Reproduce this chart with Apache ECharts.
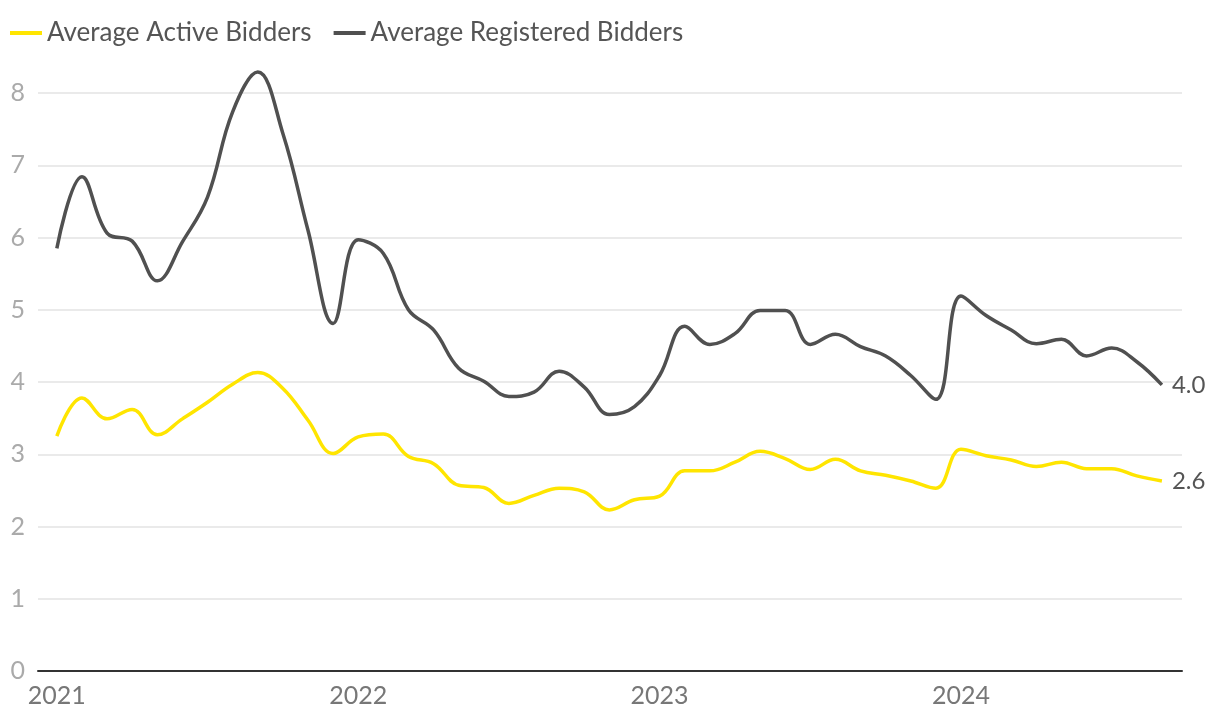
<!DOCTYPE html>
<html>
<head>
<meta charset="utf-8">
<script src="https://cdn.jsdelivr.net/npm/echarts@6/dist/echarts.min.js"></script>
<style>html,body{margin:0;padding:0;background:#fff}#chart{width:1220px;height:726px}</style>
</head>
<body>
<div id="chart"></div>
<script>
const months = [];
for (let y = 2021; y <= 2024; y++) for (let m = 1; m <= 12; m++) months.push(y + '-' + String(m).padStart(2, '0'));
months.length = 45; // Jan 2021 .. Sep 2024

const yearLabels = ['2021', '2022', '2023', '2024'];
const yearTickIndex = [0, 12, 24, 36];

const activeBidders = [
  3.25, 3.78, 3.49, 3.62, 3.27, 3.49, 3.72, 3.97, 4.13, 3.91, 3.47, 3.01,
  3.24, 3.28, 2.97, 2.87, 2.57, 2.54, 2.32, 2.43, 2.53, 2.48, 2.23, 2.37,
  2.42, 2.77, 2.77, 2.89, 3.04, 2.94, 2.79, 2.93, 2.77, 2.71, 2.63, 2.53,
  3.07, 2.98, 2.92, 2.83, 2.89, 2.80, 2.80, 2.70, 2.63
];
const registeredBidders = [
  5.85, 6.84, 6.06, 5.95, 5.40, 5.94, 6.56, 7.74, 8.29, 7.44, 6.10, 4.81,
  5.97, 5.78, 5.00, 4.72, 4.19, 4.01, 3.80, 3.86, 4.15, 3.93, 3.55, 3.66,
  4.09, 4.77, 4.52, 4.67, 4.99, 4.99, 4.52, 4.66, 4.49, 4.36, 4.09, 3.76,
  5.19, 4.92, 4.72, 4.53, 4.59, 4.36, 4.47, 4.28, 3.96
];
const seriesNames = ['Average Active Bidders', 'Average Registered Bidders'];
const seriesColors = ['#FFE500', '#505050'];

const font = 'Lato, "Noto Sans", sans-serif';
const toPairs = arr => arr.map((v, i) => [i, v]);

const chart = echarts.init(document.getElementById('chart'), null, { renderer: 'canvas' });
chart.setOption({
  animation: false,
  textStyle: { fontFamily: font },
  legend: {
    left: 10, top: 20, padding: 0,
    itemWidth: 32, itemHeight: 4, itemGap: 22,
    icon: 'rect',
    textStyle: { fontFamily: font, fontSize: 26, color: '#555' },
    data: seriesNames
  },
  grid: { left: 38, right: 38, top: 93, bottom: 55, containLabel: false },
  xAxis: {
    type: 'value',
    min: -0.75, max: 44.8,
    axisLine: { show: true, onZero: false, lineStyle: { color: '#333', width: 2 } },
    axisTick: { show: false },
    splitLine: { show: false },
    axisLabel: {
      customValues: yearTickIndex,
      formatter: v => yearLabels[yearTickIndex.indexOf(Math.round(v))] || '',
      color: '#777', fontSize: 25, fontFamily: font, margin: 12
    }
  },
  yAxis: {
    type: 'value',
    min: 0, max: 8, interval: 1,
    axisLine: { show: false },
    axisTick: { show: false },
    splitLine: { lineStyle: { color: '#e3e3e3', width: 1.5 } },
    axisLabel: { color: '#aaa', fontSize: 25, fontFamily: font, margin: 13 }
  },
  series: [
    {
      name: seriesNames[0], type: 'line', data: toPairs(activeBidders),
      smooth: 0.4, symbol: 'none', clip: false,
      lineStyle: { color: seriesColors[0], width: 3.5 }, itemStyle: { color: seriesColors[0] },
      endLabel: { show: true, formatter: p => p.value[1].toFixed(1), color: '#555', fontSize: 24, fontFamily: font, distance: 10 }
    },
    {
      name: seriesNames[1], type: 'line', data: toPairs(registeredBidders),
      smooth: 0.4, symbol: 'none', clip: false,
      lineStyle: { color: seriesColors[1], width: 3.5 }, itemStyle: { color: seriesColors[1] },
      endLabel: { show: true, formatter: p => p.value[1].toFixed(1), color: '#555', fontSize: 24, fontFamily: font, distance: 10 }
    }
  ]
});
</script>
</body>
</html>
